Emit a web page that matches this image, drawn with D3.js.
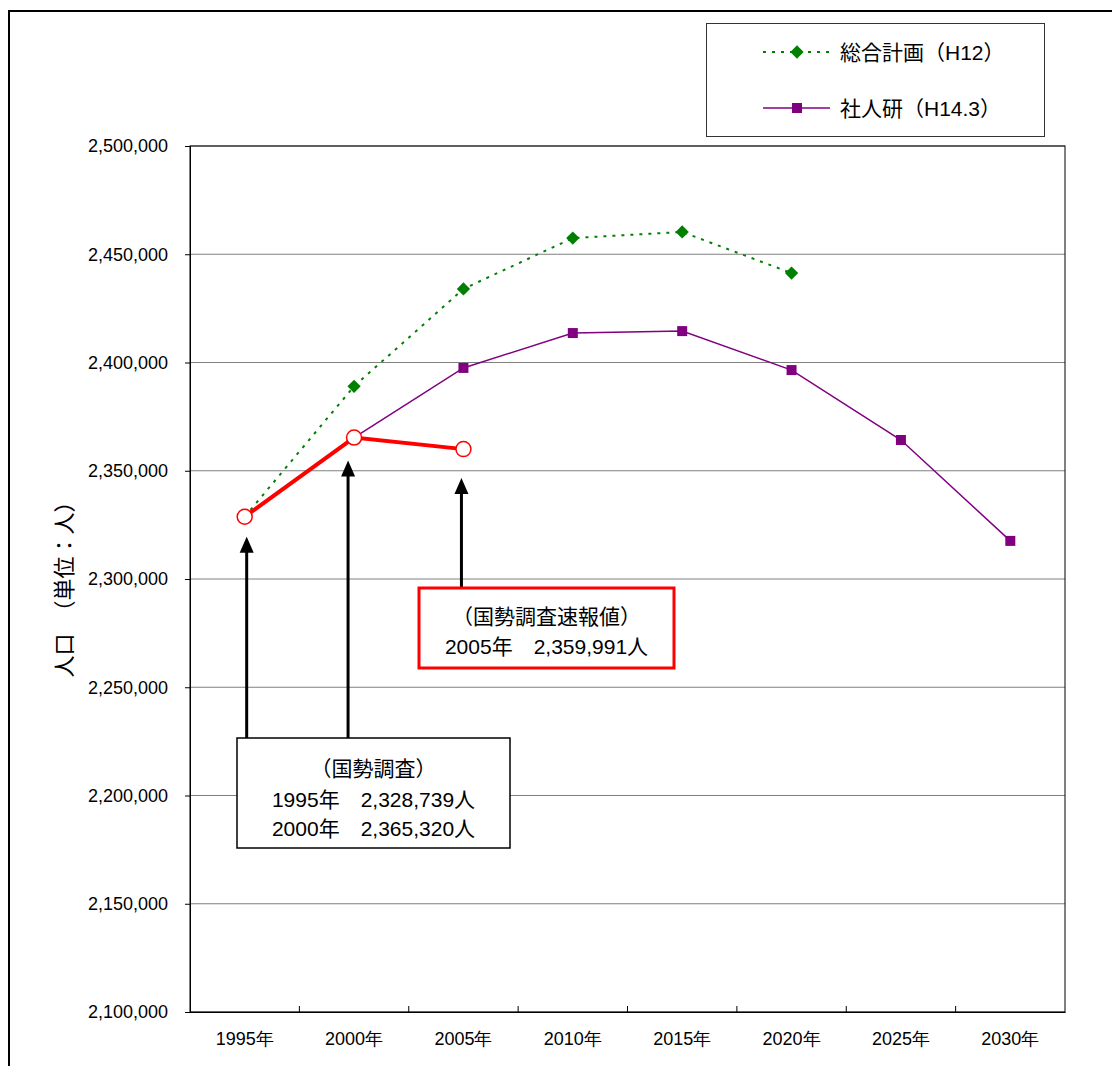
<!DOCTYPE html>
<html><head><meta charset="utf-8">
<script src="https://cdn.jsdelivr.net/npm/d3@7"></script>
<style>
body{margin:0;background:#fff;}
svg{display:block;font-family:"Liberation Sans","Noto Sans CJK JP",sans-serif;}
</style></head><body>
<svg id="c" width="1112" height="1066"></svg>
<script>
const categories = ["1995年","2000年","2005年","2010年","2015年","2020年","2025年","2030年"];
const sogoKeikaku = [2328739, 2389000, 2434000, 2457500, 2460300, 2441300, null, null];
const shajinken = [null, 2365320, 2397500, 2413600, 2414500, 2396500, 2364200, 2317600];
const census = [2328739, 2365320, 2359991, null, null, null, null, null];
const yTicks = [2100000,2150000,2200000,2250000,2300000,2350000,2400000,2450000,2500000];
const legendLabels = ["総合計画（H12）","社人研（H14.3）"];
const yTitle = "人口　（単位：人）";
const note1 = ["（国勢調査）","1995年　2,328,739人","2000年　2,365,320人"];
const note2 = ["（国勢調査速報値）","2005年　2,359,991人"];

const svg = d3.select("#c");
const L=190, R=1065, T=146, B=1012;
const x = d3.scaleBand().domain(categories).range([L,R]);
const y = d3.scaleLinear().domain([2100000,2500000]).range([B,T]);
const cx = c => x(c)+x.bandwidth()/2;

// outer frame
svg.append("rect").attr("x",9).attr("y",11).attr("width",1115).attr("height",1070)
  .attr("fill","none").attr("stroke","#000").attr("stroke-width",2);

// gridlines
svg.append("g").selectAll("line").data(yTicks).join("line")
  .attr("x1",L).attr("x2",R).attr("y1",d=>y(d)).attr("y2",d=>y(d))
  .attr("stroke","#808080").attr("stroke-width",1);

// plot border
svg.append("rect").attr("x",L).attr("y",T).attr("width",R-L).attr("height",B-T)
  .attr("fill","none").attr("stroke","#000").attr("stroke-width",1);

// y axis
const ya = svg.append("g").attr("transform",`translate(${L},0)`)
  .call(d3.axisLeft(y).tickValues(yTicks).tickFormat(d3.format(",")).tickSize(5).tickPadding(17));
ya.select(".domain").attr("stroke","#000");
ya.selectAll("text").attr("font-size",18).attr("fill","#000").attr("font-family",null);

// x axis
const xa = svg.append("g").attr("transform",`translate(0,${B})`)
  .call(d3.axisBottom(x).tickSize(0).tickPadding(20));
xa.select(".domain").attr("stroke","#000");
xa.selectAll("text").attr("font-size",18).attr("fill","#000").attr("font-family",null);
// inner tick marks at band boundaries
svg.append("g").selectAll("line").data(categories.slice(1)).join("line")
  .attr("x1",d=>x(d)).attr("x2",d=>x(d)).attr("y1",B).attr("y2",B-6).attr("stroke","#000");

// y title
svg.append("text").attr("transform","translate(64,584) rotate(-90)")
  .attr("text-anchor","middle").attr("dominant-baseline","central")
  .attr("font-size",22).text(yTitle);

function series(vals){ return categories.map((c,i)=>({c,v:vals[i]})).filter(d=>d.v!=null); }
const line = d3.line().x(d=>cx(d.c)).y(d=>y(d.v));

// green
const gData = series(sogoKeikaku);
svg.append("path").datum(gData).attr("d",line).attr("fill","none")
  .attr("stroke","#008000").attr("stroke-width",2).attr("stroke-dasharray","3,6");
svg.append("g").selectAll("path").data(gData).join("path")
  .attr("d",d3.symbol(d3.symbolSquare,88)()).attr("fill","#008000")
  .attr("transform",d=>`translate(${cx(d.c)},${y(d.v)}) rotate(45)`);

// purple
const pData = series(shajinken);
svg.append("path").datum(pData).attr("d",line).attr("fill","none")
  .attr("stroke","#800080").attr("stroke-width",1.5);
svg.append("g").selectAll("rect").data(pData).join("rect")
  .attr("x",d=>cx(d.c)-5).attr("y",d=>y(d.v)-5).attr("width",10).attr("height",10).attr("fill","#800080");

// red census
const rData = series(census);
svg.append("path").datum(rData).attr("d",line).attr("fill","none")
  .attr("stroke","#ff0000").attr("stroke-width",4);
svg.append("g").selectAll("circle").data(rData).join("circle")
  .attr("cx",d=>cx(d.c)).attr("cy",d=>y(d.v)).attr("r",7.5)
  .attr("fill","#fff").attr("stroke","#ff0000").attr("stroke-width",1.5);

// arrows
function arrow(xp, tipY, baseY){
  svg.append("line").attr("x1",xp).attr("x2",xp).attr("y1",baseY).attr("y2",tipY+12)
    .attr("stroke","#000").attr("stroke-width",3);
  svg.append("path").attr("d",`M${xp},${tipY} L${xp-7},${tipY+16} L${xp+7},${tipY+16} Z`).attr("fill","#000");
}
arrow(cx(categories[0])+2, y(census[0])+20, 738);
arrow(cx(categories[1])-6, y(census[1])+23, 738);
arrow(cx(categories[2])-2, y(census[2])+29, 588);

// note boxes
function box(x0,y0,w,h,stroke,sw,lines,ys){
  svg.append("rect").attr("x",x0).attr("y",y0).attr("width",w).attr("height",h)
    .attr("fill","#fff").attr("stroke",stroke).attr("stroke-width",sw);
  lines.forEach((t,i)=>svg.append("text").attr("x",x0+w/2).attr("y",ys[i])
    .attr("text-anchor","middle").attr("dominant-baseline","central").attr("font-size",21).text(t));
}
box(237,738,273,110,"#000",1.5,note1,[768,799,828]);
box(419,588,255,80,"#ff0000",3,note2,[616,646]);

// legend
svg.append("rect").attr("x",706.5).attr("y",23.5).attr("width",338).attr("height",113)
  .attr("fill","#fff").attr("stroke","#333").attr("stroke-width",1);
const ly=[52,108];
svg.append("line").attr("x1",763).attr("x2",830).attr("y1",ly[0]).attr("y2",ly[0])
  .attr("stroke","#008000").attr("stroke-width",2).attr("stroke-dasharray","3,6");
svg.append("path").attr("d",d3.symbol(d3.symbolSquare,88)()).attr("fill","#008000")
  .attr("transform",`translate(797,${ly[0]}) rotate(45)`);
svg.append("line").attr("x1",763).attr("x2",830).attr("y1",ly[1]).attr("y2",ly[1])
  .attr("stroke","#800080").attr("stroke-width",1.5);
svg.append("rect").attr("x",792).attr("y",ly[1]-5).attr("width",10).attr("height",10).attr("fill","#800080");
legendLabels.forEach((t,i)=>svg.append("text").attr("x",840).attr("y",ly[i])
  .attr("dominant-baseline","central").attr("font-size",21).text(t));
</script></body></html>
